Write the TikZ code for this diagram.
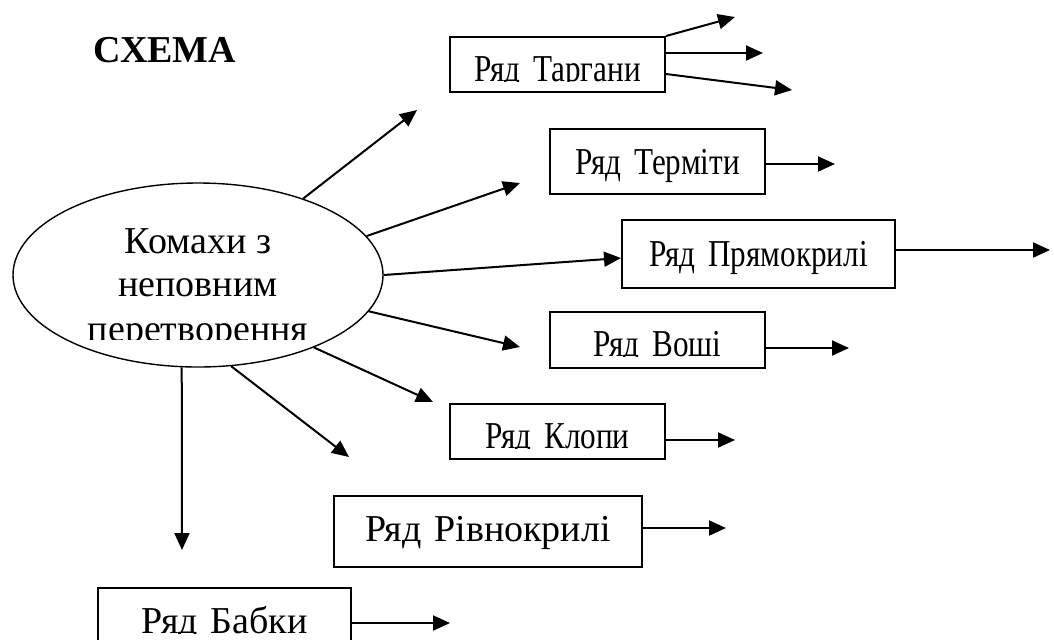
\documentclass[tikz,border=0pt]{standalone}
\usepackage{fontspec}
\setmainfont{Liberation Serif}
\newfontfamily\vuzkyj{Liberation Serif}[FakeStretch=0.82]
\usepackage{trimclip}
\usetikzlibrary{arrows.meta,shapes.geometric}

% текст, обрізаний знизу по базовій лінії
\newcommand{\cutdesc}[2][0pt]{\clipbox{0pt {\dimexpr\depth+#1\relax} 0pt 0pt}{#2}}

\tikzset{
  ryad/.style={draw, line width=1pt, inner sep=0pt, align=center, anchor=north west},
  vuzkyiryad/.style={ryad, font=\fontsize{19}{21.5}\selectfont\vuzkyj},
  strilka/.style={->, line width=1pt}
}

\begin{document}
\begin{tikzpicture}[>={Triangle[length=8.5pt,width=7.5pt]}, x=0.5pt, y=-0.5pt,
    font=\fontsize{19}{21.5}\selectfont]
    \clip (0,0) rectangle (1054,639);

    % 1. Заголовок
    \node[font=\fontsize{19}{21.5}\selectfont\bfseries] (shema) at (165,50) {СХЕМА};

    % 2. Еліпс
    \node[ellipse, draw, line width=0.7pt, minimum width=185pt, minimum height=92pt,
        inner sep=0pt] (komahy) at (198,275) {};
    \node[align=center, inner sep=0pt] (komahytxt) at (198,284)
        {Комахи з\\неповним\\\cutdesc[1pt]{перетворення}};

    % 3. Ряди
    \node[vuzkyiryad, text width=107.5pt, text height=22pt, text depth=5.5pt] (targ) at (449,36) {\cutdesc{Ряд Таргани}};
    \node[vuzkyiryad, text width=107.5pt, text height=22.5pt, text depth=10pt] (term) at (549,128) {Ряд Терміти};
    \node[vuzkyiryad, text width=136.5pt, text height=23pt, text depth=11pt] (pryam) at (621,219) {Ряд Прямокрилі};
    \node[vuzkyiryad, text width=107.5pt, text height=22pt, text depth=6pt] (voshi) at (549,311) {\cutdesc{Ряд Воші}};
    \node[vuzkyiryad, text width=107.5pt, text height=22pt, text depth=5.5pt] (klopy) at (449,403) {\cutdesc{Ряд Клопи}};
    \node[ryad, text width=154pt, text height=22.5pt, text depth=13pt] (rivn) at (333,495) {Ряд Рівнокрилі};
    \node[ryad, text width=126.5pt, text height=22.5pt, text depth=9pt] (babky) at (97,587) {\cutdesc{Ряд Бабки}};

    % 4. Кінці стрілок
    \coordinate (k1) at (417,110);
    \coordinate (k2) at (520,183);
    \coordinate (k4) at (520,347);
    \coordinate (k5) at (433,402);
    \coordinate (k6) at (349,457);
    \coordinate (k7) at (182,550);
    \coordinate (t1) at (735,17);
    \coordinate (t2) at (763,53);
    \coordinate (t3) at (792,90);
    \coordinate (termo) at (835,164);
    \coordinate (pryamo) at (1050,250);
    \coordinate (voshio) at (849,348);
    \coordinate (klopyo) at (735,440);
    \coordinate (rivno) at (726,528);
    \coordinate (babkyo) at (450,623);

    % 5. Стрілки від еліпса
    \draw[strilka] (komahy.36) -- (k1);
    \draw[strilka] (komahy.13) -- (k2);
    \draw[strilka] (komahy.0) -- ([yshift=-2pt]pryam.west);
    \draw[strilka] (komahy.-12) -- (k4);
    \draw[strilka] (komahy.-32) -- (k5);
    \draw[strilka] (komahy.-70) -- (k6);
    \draw[strilka] (komahy.-100) -- (k7);

    % 6. Стрілки від рядів
    \draw[strilka] (targ.north east) -- (t1);
    \draw[strilka] (targ.east |- t2) -- (t2);
    \draw[strilka] ([yshift=-4.75pt]targ.east) -- (t3);
    \draw[strilka] (term.east |- termo) -- (termo);
    \draw[strilka] (pryam.east |- pryamo) -- (pryamo);
    \draw[strilka] (voshi.east |- voshio) -- (voshio);
    \draw[strilka] (klopy.east |- klopyo) -- (klopyo);
    \draw[strilka] (rivn.east |- rivno) -- (rivno);
    \draw[strilka] (babky.east |- babkyo) -- (babkyo);
\end{tikzpicture}
\end{document}
